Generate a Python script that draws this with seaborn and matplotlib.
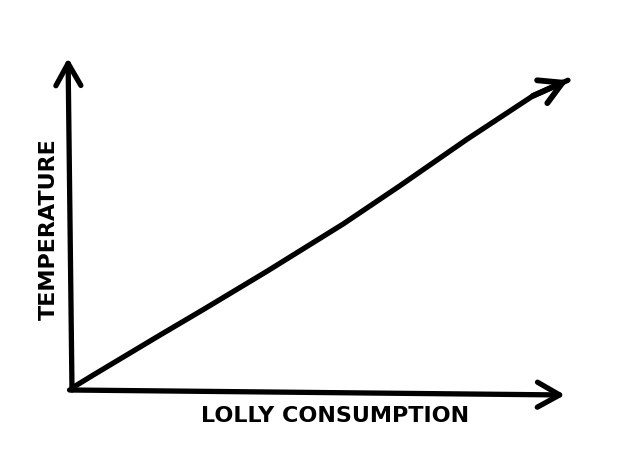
import matplotlib
matplotlib.use("Agg")
import matplotlib.pyplot as plt
import seaborn as sns
import pandas as pd

# Data (axis units 0-100)
lolly_consumption = [0.0, 4.3, 17.8, 26.6, 39.6, 55.0, 66.5, 80.1, 93.5, 100.6]
temperature = [0.6, 4.5, 16.5, 24.2, 35.8, 50.0, 61.5, 75.5, 88.6, 93.3]
x_label = "LOLLY CONSUMPTION"
y_label = "TEMPERATURE"

sns.set_theme(style="white")
plt.rcParams['font.family'] = ['DejaVu Sans']

fig = plt.figure(figsize=(6.28, 4.71), dpi=100)
fig.patch.set_facecolor("white")
ax = fig.add_axes([72 / 628, 81 / 471, 493 / 628, 332 / 471])

df = pd.DataFrame({"lolly": lolly_consumption, "temp": temperature})
sns.lineplot(data=df, x="lolly", y="temp", ax=ax, color="black",
             linewidth=3.8, sort=False, estimator=None)
for ln in ax.lines:
    ln.set_clip_on(False)
    ln.set_solid_capstyle("round")
    ln.set_solid_joinstyle("round")

# arrowhead on the data line
ax.annotate("", xy=(lolly_consumption[-1], temperature[-1]),
            xytext=(lolly_consumption[-2], temperature[-2]),
            arrowprops=dict(arrowstyle="->,head_length=0.8,head_width=0.45",
                            color="black", lw=4.2, mutation_scale=20,
                            shrinkA=0, shrinkB=0, capstyle="round",
                            joinstyle="round"),
            annotation_clip=False)

ax.set_xlim(0, 100)
ax.set_ylim(0, 100)
ax.set_xticks([])
ax.set_yticks([])
ax.set_xlabel("")
ax.set_ylabel("")
sns.despine(ax=ax, left=True, bottom=True)
ax.set_facecolor("white")

# hand-drawn style axes arrows
arrow_kw = dict(arrowstyle="->,head_length=0.8,head_width=0.45", color="black",
                lw=3.8, mutation_scale=20, shrinkA=0, shrinkB=0,
                capstyle="round", joinstyle="round")
ax.annotate("", xy=(1.0, -0.015), xytext=(-0.005, 0.0), xycoords="axes fraction",
            textcoords="axes fraction", arrowprops=arrow_kw, annotation_clip=False)
ax.annotate("", xy=(-0.008, 1.0), xytext=(0.0, 0.0), xycoords="axes fraction",
            textcoords="axes fraction", arrowprops=arrow_kw, annotation_clip=False)

fig.text(335 / 628, 1 - 416 / 471, x_label, ha="center", va="center",
         fontsize=16, fontweight="heavy", color="black")
fig.text(49 / 628, 1 - 229 / 471, y_label, ha="center", va="center",
         rotation=90, fontsize=16, fontweight="heavy", color="black")

fig.savefig("out.png", dpi=100, facecolor="white")
